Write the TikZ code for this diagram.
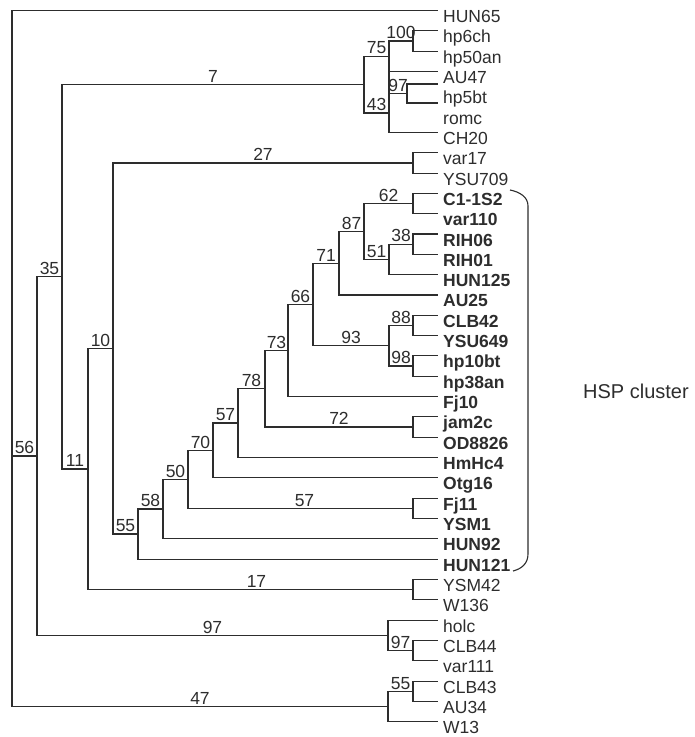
\documentclass[tikz,border=0pt]{standalone}
\usepackage{fontspec}
\setmainfont{Liberation Sans}
\definecolor{ink}{RGB}{45,45,45}
\tikzset{
  br/.style={draw=ink,line width=1.1pt},
  bs/.style={anchor=south,inner sep=0pt,yshift=1.5pt,text=ink,font=\fontsize{17.5}{18}\selectfont},
  leaf/.style={anchor=base west,inner sep=0pt,text=ink,font=\fontsize{17.5}{18}\selectfont},
  leafb/.style={leaf,font=\fontsize{17.5}{18}\selectfont\bfseries},
}
\begin{document}
\begin{tikzpicture}[x=1pt,y=-1pt]
\useasboundingbox (0,0) rectangle (695,737);
% leaves
\foreach \i/\nm in {0/HUN65,1/hp6ch,2/hp50an,3/AU47,4/hp5bt,5/romc,6/CH20,7/var17,8/YSU709,28/YSM42,29/W136,30/holc,31/CLB44,32/var111,33/CLB43,34/AU34,35/W13}{
  \pgfmathsetmacro\yy{10.5+20.32*\i}
  \coordinate (e\i) at (438,\yy);
  \node[leaf] (t\i) at (443,\yy+12) {\nm};
}
\foreach \i/\nm in {9/C1-1S2,10/var110,11/RIH06,12/RIH01,13/HUN125,14/AU25,15/CLB42,16/YSU649,17/hp10bt,18/hp38an,19/Fj10,20/jam2c,21/OD8826,22/HmHc4,23/Otg16,24/Fj11,25/YSM1,26/HUN92,27/HUN121}{
  \pgfmathsetmacro\yy{10.5+20.32*\i}
  \coordinate (e\i) at (438,\yy);
  \node[leafb] (t\i) at (443,\yy+12) {\nm};
}
\coordinate (e4) at (438,84);
\coordinate (e5) at (438,103);
% internal nodes
\coordinate (N100) at (413,41);
\coordinate (N75) at (389,56.2);
\coordinate (N97a) at (407,93.5);
\coordinate (N43) at (389,113);
\coordinate (N7) at (364,84.6);
\coordinate (N27) at (413,163);
\coordinate (N62) at (413,203.5);
\coordinate (N38) at (413,244.2);
\coordinate (N51) at (389,259.5);
\coordinate (N87) at (364,231.5);
\coordinate (N71) at (339,263.2);
\coordinate (N88) at (413,325.4);
\coordinate (N98) at (413,366);
\coordinate (N93) at (389,345.7);
\coordinate (N66) at (313,304.5);
\coordinate (N73) at (288,350.4);
\coordinate (N72) at (413,427);
\coordinate (N78) at (265,388.7);
\coordinate (N57a) at (238,423);
\coordinate (N70) at (213,450.4);
\coordinate (N57b) at (413,508.3);
\coordinate (N50) at (188,479.3);
\coordinate (N58) at (163,509);
\coordinate (N55) at (138,534);
\coordinate (N10) at (113,348.5);
\coordinate (N17) at (413,589.5);
\coordinate (N11) at (88,469);
\coordinate (N35) at (62,276.8);
\coordinate (N97b) at (413,650.5);
\coordinate (N97) at (388,635.3);
\coordinate (N56) at (37,456);
\coordinate (N55b) at (413,691.3);
\coordinate (N47) at (388,706.5);
\coordinate (R) at (12,456);
% branches
\draw[br] (R) |- (e0);
\draw[br] (R) |- (N56) node[bs,pos=0.75] {56};
\draw[br] (R) |- (N47) node[bs,pos=0.75] {47};
\draw[br] (N56) |- (N35) node[bs,pos=0.75] {35};
\draw[br] (N56) |- (N97) node[bs,pos=0.75] {97};
\draw[br] (N35) |- (N7) node[bs,pos=0.75] {7};
\draw[br] (N35) |- (N11) node[bs,pos=0.75] {11};
\draw[br] (N7) |- (N75) node[bs,pos=0.75] {75};
\draw[br] (N7) |- (N43) node[bs,pos=0.75] {43};
\draw[br] (N75) -- (N43);
\draw[br] (N75) |- (N100) node[bs,pos=0.75] {100};
\draw[br] (N75) |- (e3);
\draw[br] (N100) |- (e1);
\draw[br] (N100) |- (e2);
\draw[br] (N43) |- (N97a) node[bs,pos=0.75] {97};
\draw[br] (N43) |- (e6);
\draw[br] (N97a) |- (e4);
\draw[br] (N97a) |- (e5);
\draw[br] (N11) |- (N10) node[bs,pos=0.75] {10};
\draw[br] (N11) |- (N17) node[bs,pos=0.75,xshift=6pt] {17};
\draw[br] (N10) |- (N27) node[bs,pos=0.75] {27};
\draw[br] (N10) |- (N55) node[bs,pos=0.75] {55};
\draw[br] (N27) |- (e7);
\draw[br] (N27) |- (e8);
\draw[br] (N55) |- (N58) node[bs,pos=0.75] {58};
\draw[br] (N55) |- (e27);
\draw[br] (N58) |- (N50) node[bs,pos=0.75] {50};
\draw[br] (N58) |- (e26);
\draw[br] (N50) |- (N70) node[bs,pos=0.75] {70};
\draw[br] (N50) |- (N57b) node[bs,pos=0.75,xshift=4pt] {57};
\draw[br] (N57b) |- (e24);
\draw[br] (N57b) |- (e25);
\draw[br] (N70) |- (N57a) node[bs,pos=0.75] {57};
\draw[br] (N70) |- (e23);
\draw[br] (N57a) |- (N78) node[bs,pos=0.75] {78};
\draw[br] (N57a) |- (e22);
\draw[br] (N78) |- (N73) node[bs,pos=0.75] {73};
\draw[br] (N78) |- (N72) node[bs,pos=0.75] {72};
\draw[br] (N72) |- (e20);
\draw[br] (N72) |- (e21);
\draw[br] (N73) |- (N66) node[bs,pos=0.75] {66};
\draw[br] (N73) |- (e19);
\draw[br] (N66) |- (N71) node[bs,pos=0.75] {71};
\draw[br] (N66) |- (N93) node[bs,pos=0.75] {93};
\draw[br] (N71) |- (N87) node[bs,pos=0.75] {87};
\draw[br] (N71) |- (e14);
\draw[br] (N87) |- (N62) node[bs,pos=0.75] {62};
\draw[br] (N87) |- (N51) node[bs,pos=0.75] {51};
\draw[br] (N62) |- (e9);
\draw[br] (N62) |- (e10);
\draw[br] (N51) |- (N38) node[bs,pos=0.75] {38};
\draw[br] (N51) |- (e13);
\draw[br] (N38) |- (e11);
\draw[br] (N38) |- (e12);
\draw[br] (N93) |- (N88) node[bs,pos=0.75] {88};
\draw[br] (N93) |- (N98) node[bs,pos=0.75] {98};
\draw[br] (N88) |- (e15);
\draw[br] (N88) |- (e16);
\draw[br] (N98) |- (e17);
\draw[br] (N98) |- (e18);
\draw[br] (N17) |- (e28);
\draw[br] (N17) |- (e29);
\draw[br] (N97) |- (e30);
\draw[br] (N97) |- (N97b) node[bs,pos=0.75] {97};
\draw[br] (N97b) |- (e31);
\draw[br] (N97b) |- (e32);
\draw[br] (N47) |- (N55b) node[bs,pos=0.75] {55};
\draw[br] (N47) |- (e35);
\draw[br] (N55b) |- (e33);
\draw[br] (N55b) |- (e34);
% HSP bracket
\coordinate (bt) at (510,190);
\coordinate (bb) at (513,571);
\draw[draw=ink,line width=1.1pt] (bt) .. controls (520,192) and (528,197) .. (528,206) -- (528,554) .. controls (528,564) and (521,569) .. (bb);
\node[anchor=west,inner sep=0pt,text=ink,font=\fontsize{20}{22}\selectfont] (hsp) at (583,391) {HSP cluster};
\end{tikzpicture}
\end{document}
